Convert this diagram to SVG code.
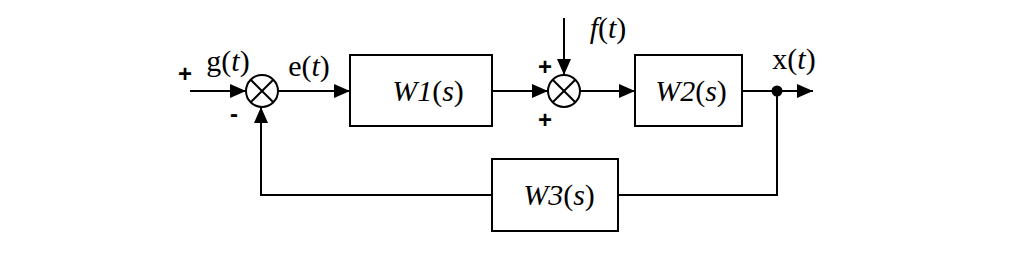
<svg xmlns="http://www.w3.org/2000/svg" width="1024" height="255" viewBox="0 0 1024 255">
<style>
.ln{stroke:#000;stroke-width:2;fill:none}
.box{stroke:#000;stroke-width:2;fill:#fff}
.t{font-family:"Liberation Serif","Times New Roman",serif;font-size:30px;fill:#000}
.s{font-family:"Liberation Sans",Arial,sans-serif;font-size:24px;font-weight:bold;fill:#000}
</style>
<defs>
<marker id="ar2" viewBox="0 0 16 14" refX="16" refY="7" markerWidth="16" markerHeight="14" orient="auto" markerUnits="userSpaceOnUse">
<path d="M0,0 L16,7 L0,14 Z" fill="#000"/>
</marker>
</defs>
<g id="connectors">
<line class="ln" x1="190" y1="91" x2="246" y2="91" marker-end="url(#ar2)"/>
<line class="ln" x1="278" y1="91" x2="350" y2="91" marker-end="url(#ar2)"/>
<line class="ln" x1="492" y1="91" x2="548" y2="91" marker-end="url(#ar2)"/>
<line class="ln" x1="564" y1="18" x2="564" y2="75" marker-end="url(#ar2)"/>
<line class="ln" x1="580" y1="91" x2="635" y2="91" marker-end="url(#ar2)"/>
<line class="ln" x1="742" y1="91" x2="813" y2="91" marker-end="url(#ar2)"/>
<polyline class="ln" points="777,91 777,195 618,195"/>
<polyline class="ln" points="492,195 261,195 261,107" marker-end="url(#ar2)"/>
<circle cx="777" cy="91" r="5.5" fill="#000"/>
</g>
<g id="sum1">
<circle class="box" cx="262" cy="91" r="16"/>
<line class="ln" x1="250.7" y1="79.7" x2="273.3" y2="102.3"/>
<line class="ln" x1="273.3" y1="79.7" x2="250.7" y2="102.3"/>
</g>
<g id="sum2">
<circle class="box" cx="564" cy="91" r="16"/>
<line class="ln" x1="552.7" y1="79.7" x2="575.3" y2="102.3"/>
<line class="ln" x1="575.3" y1="79.7" x2="552.7" y2="102.3"/>
</g>
<g id="W1">
<rect class="box" x="350" y="55" width="142" height="71"/>
<text class="t" x="428" y="101" text-anchor="middle"><tspan font-style="italic">W1</tspan>(<tspan font-style="italic">s</tspan>)</text>
</g>
<g id="W2">
<rect class="box" x="635" y="55" width="107" height="71"/>
<text class="t" x="691" y="101" text-anchor="middle"><tspan font-style="italic">W2</tspan>(<tspan font-style="italic">s</tspan>)</text>
</g>
<g id="W3">
<rect class="box" x="492" y="159" width="126" height="72"/>
<text class="t" x="559" y="205" text-anchor="middle"><tspan font-style="italic">W3</tspan>(<tspan font-style="italic">s</tspan>)</text>
</g>
<g id="labels">
<text class="s" x="185" y="82" text-anchor="middle">+</text>
<text class="s" x="234" y="122" text-anchor="middle">-</text>
<text class="s" x="545" y="75" text-anchor="middle">+</text>
<text class="s" x="545" y="128" text-anchor="middle">+</text>
<text class="t" x="228" y="71" text-anchor="middle">g(<tspan font-style="italic">t</tspan>)</text>
<text class="t" x="309" y="76" text-anchor="middle">e(<tspan font-style="italic">t</tspan>)</text>
<text class="t" x="608" y="38" text-anchor="middle"><tspan font-style="italic">f</tspan>(<tspan font-style="italic">t</tspan>)</text>
<text class="t" x="794" y="69" text-anchor="middle">x(<tspan font-style="italic">t</tspan>)</text>
</g>
</svg>
